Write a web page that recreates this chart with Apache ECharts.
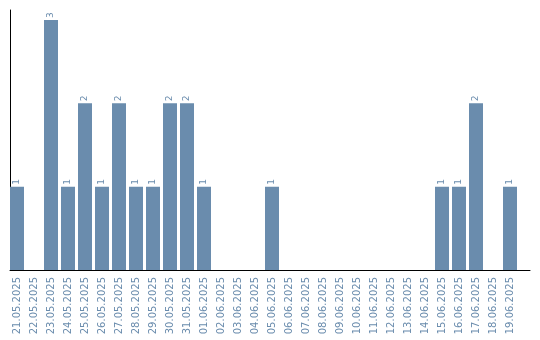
<!DOCTYPE html>
<html><head><meta charset="utf-8">
<script src="https://cdn.jsdelivr.net/npm/echarts@6/dist/echarts.min.js"></script>
<style>html,body{margin:0;padding:0;background:#fff}#c{width:540px;height:340px}</style>
</head><body><div id="c"></div>
<script>
var categories = ["21.05.2025","22.05.2025","23.05.2025","24.05.2025","25.05.2025","26.05.2025","27.05.2025","28.05.2025","29.05.2025","30.05.2025","31.05.2025","01.06.2025","02.06.2025","03.06.2025","04.06.2025","05.06.2025","06.06.2025","07.06.2025","08.06.2025","09.06.2025","10.06.2025","11.06.2025","12.06.2025","13.06.2025","14.06.2025","15.06.2025","16.06.2025","17.06.2025","18.06.2025","19.06.2025"];
var values = [1,0,3,1,2,1,2,1,1,2,2,1,0,0,0,1,0,0,0,0,0,0,0,0,0,1,1,2,0,1];
var blue = '#6a8cad';
var chart = echarts.init(document.getElementById('c'), null, {renderer:'canvas'});
chart.setOption({
  animation:false,
  grid:[
    {left:8.5, width:510, top:20, height:250},
    {left:10, width:520, top:10, height:260}
  ],
  xAxis:[
    {type:'category', gridIndex:0, data:categories,
     axisLine:{show:false}, axisTick:{show:false},
     axisLabel:{rotate:90, margin:7, color:blue, fontSize:10, fontFamily:'DejaVu Sans', interval:0}},
    {type:'value', gridIndex:1, min:0, max:1,
     axisLine:{show:true, onZero:false, lineStyle:{color:'#000', width:1}},
     axisTick:{show:false}, axisLabel:{show:false}, splitLine:{show:false}}
  ],
  yAxis:[
    {type:'value', gridIndex:0, min:0, max:3, show:false, splitLine:{show:false}},
    {type:'value', gridIndex:1, min:0, max:1,
     axisLine:{show:true, onZero:false, lineStyle:{color:'#000', width:1}},
     axisTick:{show:false}, axisLabel:{show:false}, splitLine:{show:false}}
  ],
  series:[{
    type:'bar', xAxisIndex:0, yAxisIndex:0, data:values, barWidth:14,
    itemStyle:{color:blue},
    label:{show:true, position:'top', rotate:90, align:'left', verticalAlign:'middle', distance:2, color:blue, fontSize:9, fontFamily:'DejaVu Sans',
      formatter:function(p){return p.value>0?String(p.value):'';}}
  }]
});
</script></body></html>
